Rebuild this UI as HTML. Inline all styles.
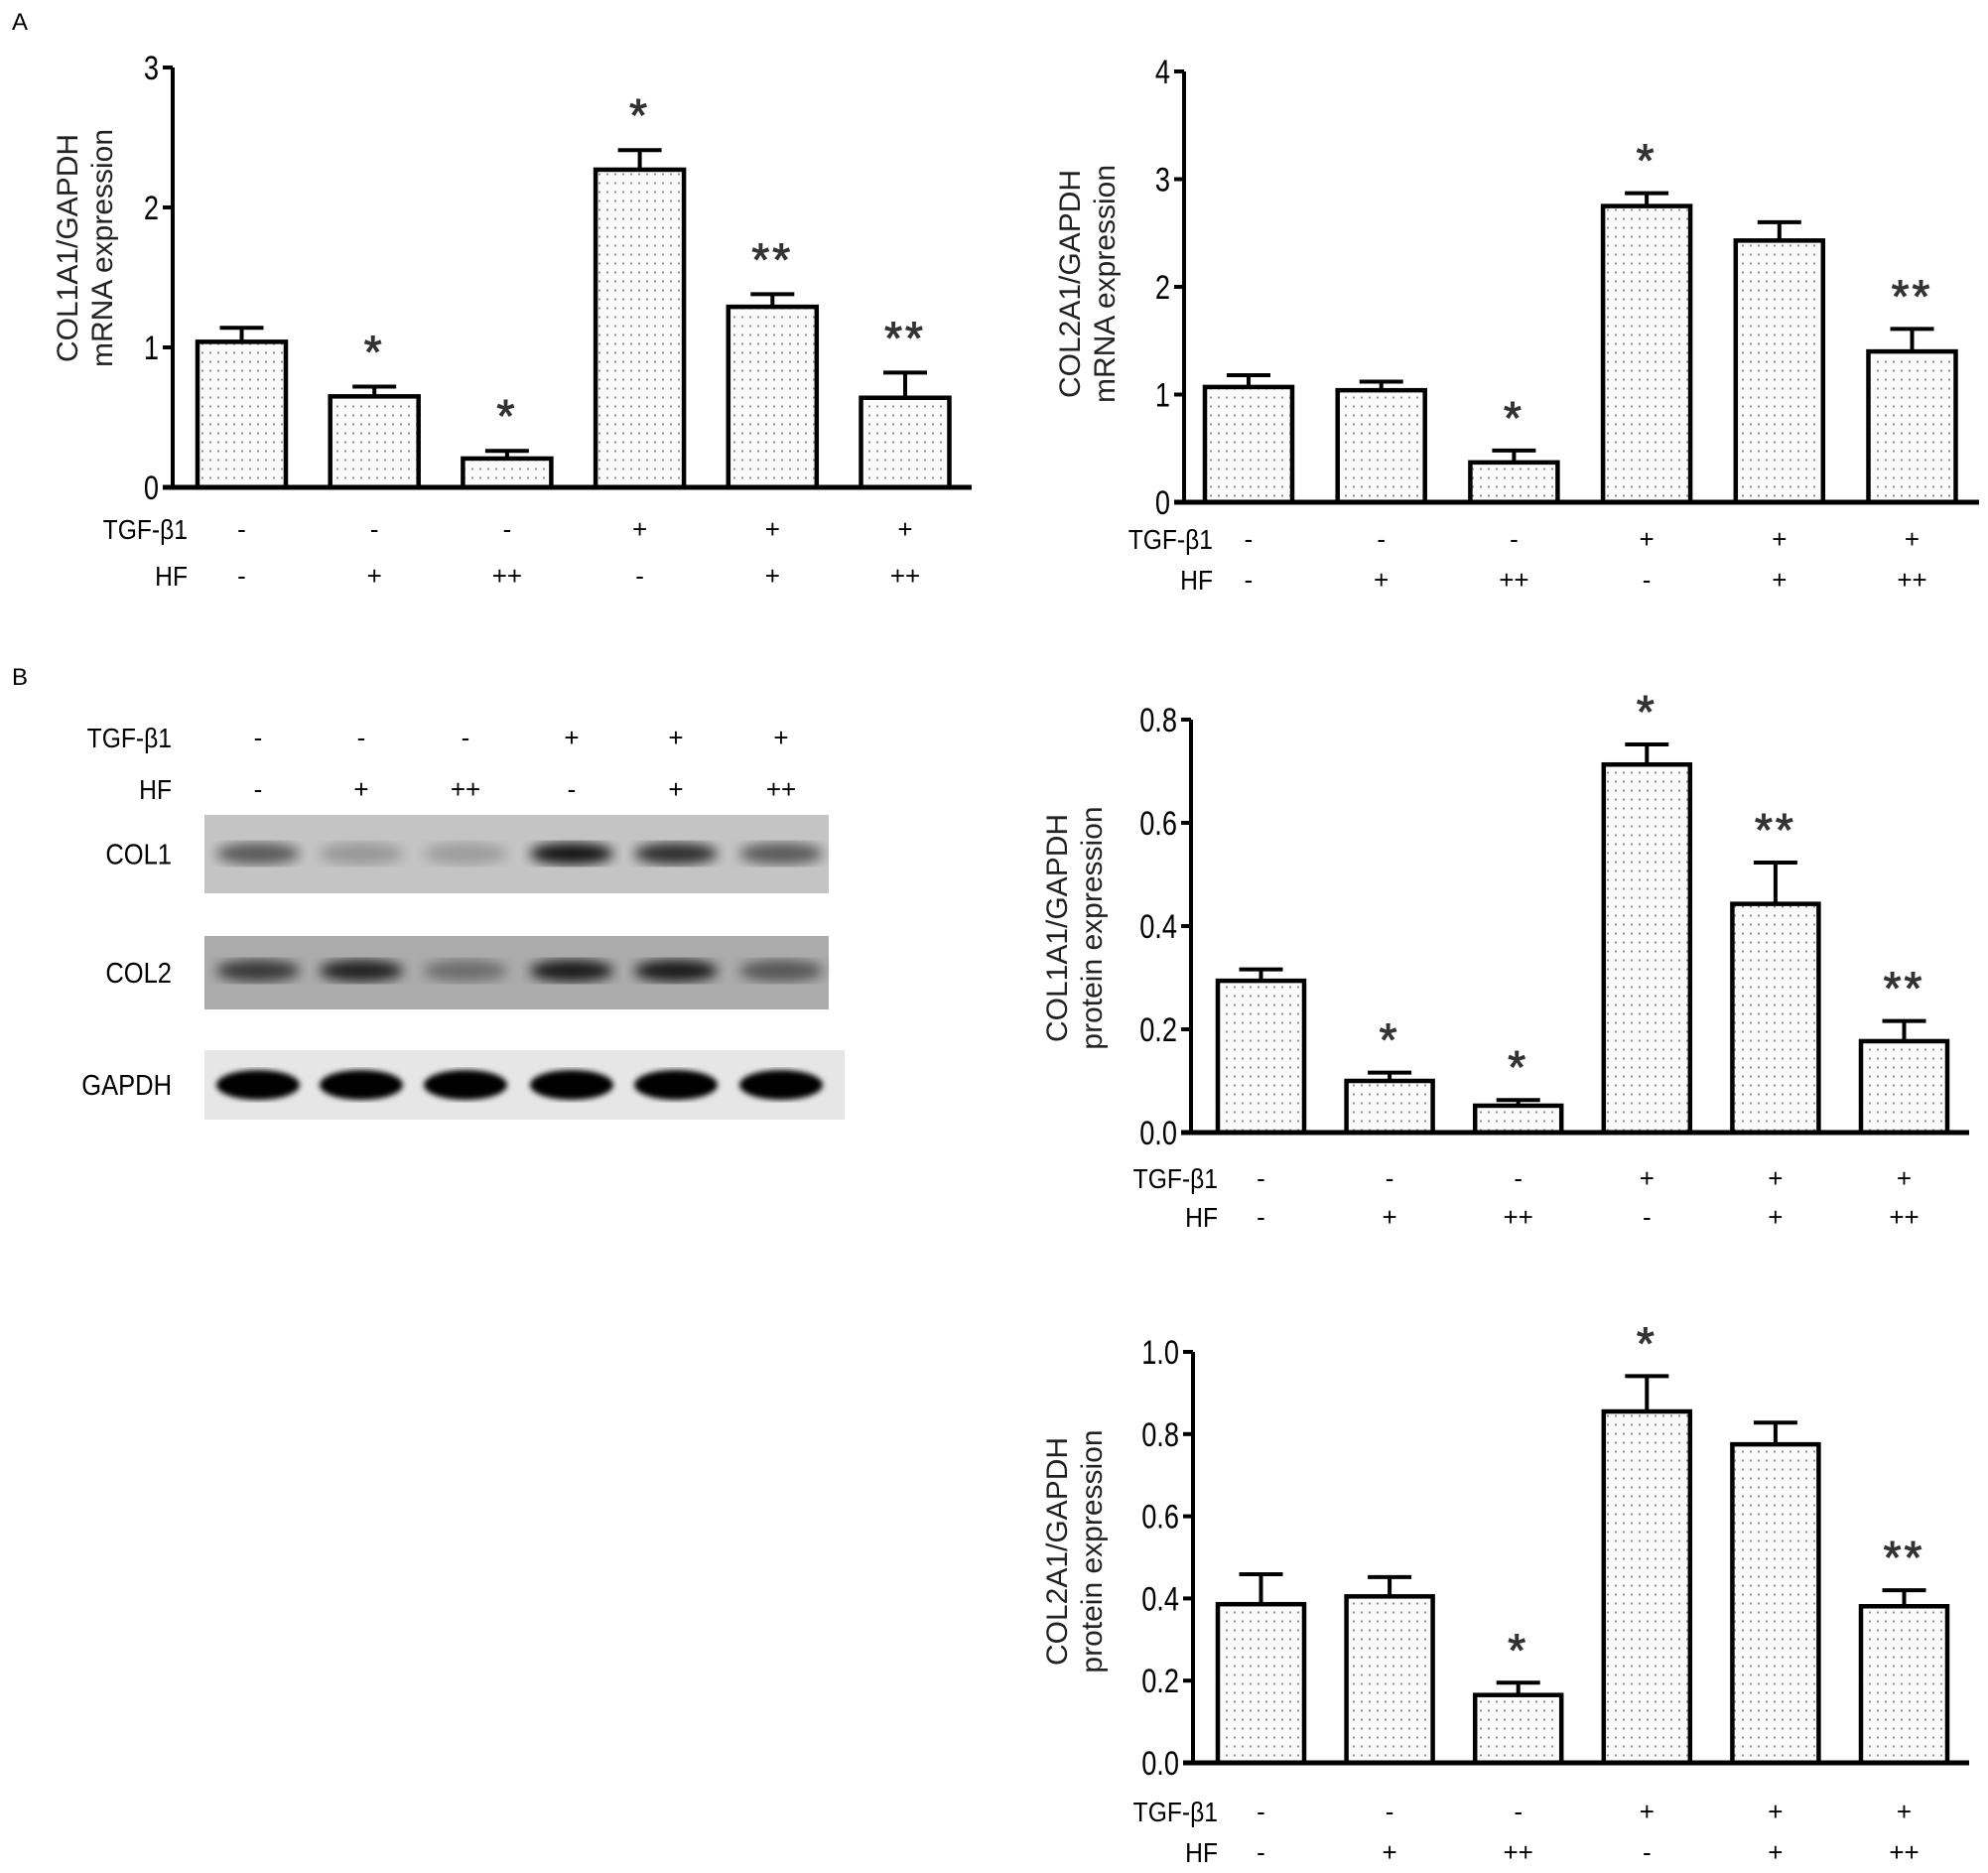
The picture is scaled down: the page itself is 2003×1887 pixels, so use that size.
<!DOCTYPE html>
<html><head><meta charset="utf-8"><style>
html,body{margin:0;padding:0;background:#fff;}
svg{display:block;font-family:"Liberation Sans",Arial,sans-serif;}
</style></head><body>
<svg id="fig" width="2003" height="1887" viewBox="0 0 2003 1887" xmlns="http://www.w3.org/2000/svg">
<defs>
<pattern id="dots" width="8" height="9" patternUnits="userSpaceOnUse">
<rect width="8" height="9" fill="#fafafa"/>
<circle cx="4" cy="4.5" r="1.1" fill="#8a8a8a"/>
</pattern>
<filter id="blur2"><feGaussianBlur stdDeviation="6"/></filter>
<filter id="blur1"><feGaussianBlur stdDeviation="3"/></filter>
</defs>
<text x="12" y="30" font-size="24">A</text>
<text x="12" y="690" font-size="24">B</text>
<g id="charts"></g>
<g id="blot"></g>
</svg>
<script>
// ---- data ----
const tgfRow = ["-","-","-","+","+","+"];
const hfRow = ["-","+","++","-","+","++"];

const a1Values = [1.04,0.65,0.206,2.27,1.29,0.64];
const a1Errors = [0.10,0.07,0.055,0.14,0.09,0.18];
const a1Stars = ["","*","*","*","**","**"];
const a1Ticks = ["0","1","2","3"];

const a2Values = [1.07,1.04,0.37,2.75,2.43,1.40];
const a2Errors = [0.11,0.08,0.11,0.12,0.17,0.21];
const a2Stars = ["","","*","*","","**"];
const a2Ticks = ["0","1","2","3","4"];

const b1Values = [0.294,0.100,0.052,0.713,0.443,0.177];
const b1Errors = [0.022,0.016,0.011,0.039,0.080,0.039];
const b1Stars = ["","*","*","*","**","**"];
const b1Ticks = ["0.0","0.2","0.4","0.6","0.8"];

const b2Values = [0.386,0.405,0.165,0.855,0.775,0.381];
const b2Errors = [0.073,0.047,0.030,0.086,0.053,0.039];
const b2Stars = ["","","*","*","","**"];
const b2Ticks = ["0.0","0.2","0.4","0.6","0.8","1.0"];

const blotCol1 = [0.6,0.25,0.22,1.0,0.85,0.6];
const blotCol2 = [0.75,0.9,0.4,0.95,0.95,0.55];
const blotGapdh = [1,1,1,1,1,1];

const NS="http://www.w3.org/2000/svg";
function mk(tag,attrs,parent){const e=document.createElementNS(NS,tag);for(const k in attrs)e.setAttribute(k,attrs[k]);parent.appendChild(e);return e;}

function chart(cfg){
  const g=mk('g',{},document.getElementById('charts'));
  
  
  const yMax=parseFloat(cfg.ticks[cfg.ticks.length-1]);
  const y=v=>cfg.y0-(cfg.y0-cfg.yTop)*v/yMax;
  const x=i=>cfg.bx0+i*cfg.step+cfg.bw/2;
  cfg.values.forEach((v,i)=>{
    const top=y(v), eTop=y(v+cfg.errors[i]), cx=x(i);
    const eb=mk('line',{x1:cx,x2:cx,y1:top,y2:eTop,stroke:'#000','stroke-width':4},g);
    
    
    const cap=mk('line',{x1:cx-22,x2:cx+22,y1:eTop,y2:eTop,stroke:'#000','stroke-width':4},g);
    
    
    const r=mk('rect',{x:cx-cfg.bw/2,y:top,width:cfg.bw,height:cfg.y0-top,fill:'url(#dots)',stroke:'#000','stroke-width':4.5},g);
    
    
    if(cfg.stars[i]){
      const s=mk('text',{x:cx,y:eTop-cfg.starGap,'font-size':46,'text-anchor':'middle',fill:'#333',stroke:'#333','stroke-width':1,'letter-spacing':3},g);
      s.textContent=cfg.stars[i];
      
      
    }
  });
  const ya=mk('line',{x1:cfg.ax,x2:cfg.ax,y1:cfg.yTop,y2:cfg.y0+2,stroke:'#000','stroke-width':4},g);
  
  
  const xa=mk('line',{x1:cfg.ax-10,x2:cfg.axEnd,y1:cfg.y0,y2:cfg.y0,stroke:'#000','stroke-width':5},g);
  
  
  cfg.ticks.forEach(t=>{
    const ty=y(parseFloat(t));
    mk('line',{x1:cfg.ax-10,x2:cfg.ax,y1:ty,y2:ty,stroke:'#000','stroke-width':4},g);
    const tl=mk('text',{x:(cfg.ax-14),y:ty+12,'font-size':34,'text-anchor':'end',transform:`translate(${(cfg.ax-14)*0.2},0) scale(0.8,1)`},g);
    tl.textContent=t;
    
    
  });
  const tt=mk('text',{transform:`translate(${cfg.tx},${cfg.ty}) rotate(-90)`,'font-size':30,'text-anchor':'middle',fill:'#222'},g);
  
  
  const t1=mk('tspan',{x:0,dy:0},tt);t1.textContent=cfg.title[0];
  const t2=mk('tspan',{x:0,dy:35},tt);t2.textContent=cfg.title[1];
  rows(g,cfg.rowLabelX,cfg.tgfY,cfg.hfY,x);
}
function rows(g,lx,ty,hy,x){
  [[ 'TGF-β1',ty,tgfRow,'tgf-row'],['HF',hy,hfRow,'hf-row']].forEach(([lab,yy,arr,nm])=>{
    const l=mk('text',{x:lx,y:yy+10,'font-size':28,'text-anchor':'end',transform:`translate(${lx*0.12},0) scale(0.88,1)`},g);
    l.textContent=lab;
    
    
    arr.forEach((s,i)=>{
      const t=mk('text',{x:x(i),y:yy+9,'font-size':26,'text-anchor':'middle'},g);
      t.textContent=s;
      
      
    });
  });
}

chart({name:'col1a1-mrna-chart',values:a1Values,errors:a1Errors,stars:a1Stars,ticks:a1Ticks,
  yTop:68,y0:491,ax:174,axEnd:979,bx0:199,step:133.7,bw:89,starGap:19,
  title:['COL1A1/GAPDH','mRNA expression'],tx:78,ty:250,rowLabelX:189,tgfY:533,hfY:580});
chart({name:'col2a1-mrna-chart',values:a2Values,errors:a2Errors,stars:a2Stars,ticks:a2Ticks,
  yTop:72,y0:506,ax:1193,axEnd:1994,bx0:1214,step:133.7,bw:88,starGap:17,
  title:['COL2A1/GAPDH','mRNA expression'],tx:1088,ty:286,rowLabelX:1222,tgfY:543,hfY:584});
chart({name:'col1a1-protein-chart',values:b1Values,errors:b1Errors,stars:b1Stars,ticks:b1Ticks,
  yTop:725,y0:1141,ax:1200,axEnd:1984,bx0:1227,step:129.6,bw:87,starGap:17,
  title:['COL1A1/GAPDH','protein expression'],tx:1075,ty:935,rowLabelX:1227,tgfY:1187,hfY:1226});
chart({name:'col2a1-protein-chart',values:b2Values,errors:b2Errors,stars:b2Stars,ticks:b2Ticks,
  yTop:1362,y0:1776,ax:1202,axEnd:1984,bx0:1227,step:129.6,bw:87,starGap:17,
  title:['COL2A1/GAPDH','protein expression'],tx:1075,ty:1563,rowLabelX:1227,tgfY:1825,hfY:1866});

(function(){
  const g=document.getElementById('blot');
  const laneX=[260,364,469,576,681,787];
  rows(g,173,743,795,i=>laneX[i]);
  const panels=[['COL1',821,900,835,'#c4c4c4',blotCol1,860],['COL2',943,1017,835,'#ababab',blotCol2,978],['GAPDH',1058,1128,851,'#e6e6e6',blotGapdh,1093]];
  panels.forEach(([lab,y1,y2,x2,bg,arr,by])=>{
    const r=mk('rect',{x:206,y:y1,width:x2-206,height:y2-y1,fill:bg},g);
    
    
    arr.forEach((v,i)=>{
      const b=mk('ellipse',{cx:laneX[i],cy:by,rx:42,ry:lab==='GAPDH'?15:11,fill:'#000',opacity:v*(lab==='GAPDH'?1:0.9),filter:lab==='GAPDH'?'url(#blur1)':'url(#blur2)'},g);
      
      
    });
    const t=mk('text',{x:173,y:(y1+y2)/2+10,'font-size':29,'text-anchor':'end',transform:`translate(${173*0.12},0) scale(0.88,1)`},g);
    t.textContent=lab;
    
    
  });
})();
</script>
</body></html>
